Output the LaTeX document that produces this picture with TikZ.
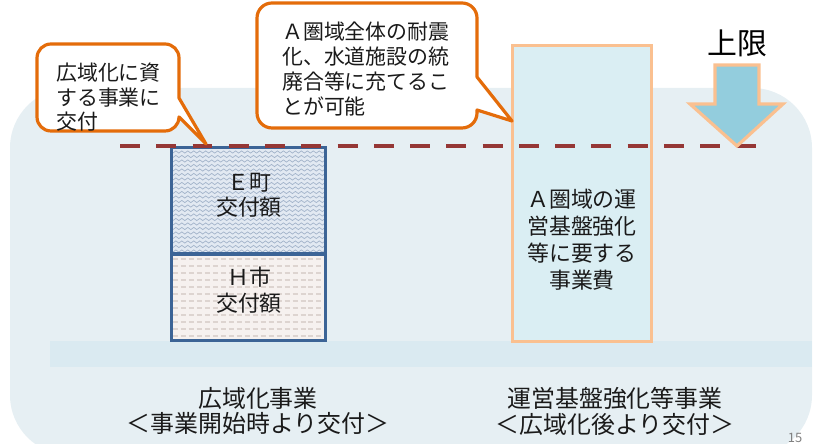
\documentclass[tikz,border=0pt]{standalone}
\usepackage{fontspec}
\newfontfamily\jp{Noto Sans CJK JP}
\usetikzlibrary{decorations.pathmorphing}
\definecolor{bgc}{HTML}{E6EFF3}
\definecolor{bandc}{HTML}{DAEAF1}
\definecolor{calloutc}{HTML}{E46C0A}
\definecolor{limitc}{HTML}{953735}
\definecolor{peachc}{HTML}{FAC090}
\definecolor{barfill}{HTML}{DAEEF3}
\definecolor{arrowfill}{HTML}{93CDDD}
\definecolor{blueb}{HTML}{3C6496}
\definecolor{efill}{HTML}{E2E9F2}
\definecolor{ewave}{HTML}{A2B3CA}
\definecolor{hfill}{HTML}{F6F1EF}
\definecolor{hdash}{HTML}{DDD4D0}
\definecolor{txt}{HTML}{1A1A1A}
\tikzset{
  callout/.style={draw=calloutc, line width=3.2, fill=white, line join=round},
  ctext/.style={font=\jp\fontsize{21}{25.3}\selectfont, text=txt, align=left, inner sep=0},
  bartext/.style={font=\jp\fontsize{22}{26}\selectfont, text=txt, align=center, inner sep=0},
  captext/.style={font=\jp\fontsize{24}{26}\selectfont, text=txt, align=center, inner sep=0},
}
\begin{document}
\begin{tikzpicture}[x=1bp,y=1bp]
\useasboundingbox (0,0) rectangle (819,444);
% background panel
\fill[bgc, rounded corners=60] (10,-11) rectangle (812,356);
% base band
\fill[bandc] (50,77) rectangle (812,103);
% left bar: E town
\fill[efill] (171,190) rectangle (326,297);
\begin{scope}
\clip (171,190) rectangle (326,297);
\foreach \yy in {193,197.5,...,297}
  \draw[ewave, line width=0.7, decorate, decoration={snake, segment length=6, amplitude=1.1}] (168,\yy) -- (330,\yy);
\end{scope}
% left bar: H city
\fill[hfill] (171,103) rectangle (326,190);
\begin{scope}
\clip (171,103) rectangle (326,190);
\foreach \yy in {108,115,...,190}
  \draw[hdash, line width=1.2, dash pattern=on 5 off 3] (173,\yy) -- (326,\yy);
\end{scope}
\node[draw=blueb, line width=3, minimum width=155, minimum height=107, inner sep=0] (ebox) at (248.5,243.5) {};
\node[draw=blueb, line width=3, minimum width=155, minimum height=87, inner sep=0] (hbox) at (248.5,146.5) {};
\node[bartext, font=\jp\fontsize{22}{25}\selectfont] (etext) at (249,248.5) {Ｅ町\\交付額};
\node[bartext, font=\jp\fontsize{22}{26}\selectfont] (htext) at (249,154) {Ｈ市\\交付額};
% right bar
\node[draw=peachc, fill=barfill, line width=3.2, minimum width=140, minimum height=297, inner sep=0] (abox) at (582,250.5) {};
\node[bartext, font=\jp\fontsize{22}{27}\selectfont] (atext) at (582,204.5) {Ａ圏域の運\\営基盤強化\\等に要する\\事業費};
% upper limit dashed line
\coordinate (lstart) at (120,298);
\coordinate (lend) at (759,298);
\draw[limitc, line width=4, dash pattern=on 20 off 16.4] (lstart) -- (lend);
% arrow
\draw[draw=peachc, fill=arrowfill, line width=3.2, line join=miter]
  (715,379) -- (759,379) -- (759,340) -- (783,340) -- (737,298) -- (690,340) -- (715,340) -- cycle;
\node[font=\jp\fontsize{30}{30}\selectfont, text=black, inner sep=0] (limit) at (737,401) {上限};
% callout 1
\draw[callout] (51,400) -- (165,400) arc[start angle=90, end angle=0, radius=14]
  -- (179,346) -- (206,300) -- (179,327) arc[start angle=0, end angle=-90, radius=14]
  -- (51,313) arc[start angle=-90, end angle=-180, radius=14]
  -- (37,386) arc[start angle=180, end angle=90, radius=14] -- cycle;
\node[ctext, anchor=west, font=\jp\fontsize{21}{24.5}\selectfont] (c1text) at (56,346.5) {広域化に資\\する事業に\\交付};
% callout 2
\draw[callout] (272,441) -- (462,441) arc[start angle=90, end angle=0, radius=15]
  -- (477,367) -- (512,323) -- (477,334) -- (477,331) arc[start angle=0, end angle=-90, radius=15]
  -- (272,316) arc[start angle=-90, end angle=-180, radius=15]
  -- (257,426) arc[start angle=180, end angle=90, radius=15] -- cycle;
\node[ctext, anchor=west] (c2text) at (282,375) {Ａ圏域全体の耐震\\化、水道施設の統\\廃合等に充てるこ\\とが可能};
% captions
\node[captext] (cap1) at (258,33) {広域化事業\\＜事業開始時より交付＞};
\node[captext] (cap2) at (615,33) {運営基盤強化等事業\\＜広域化後より交付＞};
\node[font=\jp\fontsize{13}{13}\selectfont, text=gray, inner sep=0, anchor=north] (pageno) at (795,10.5) {15};
\end{tikzpicture}
\end{document}
